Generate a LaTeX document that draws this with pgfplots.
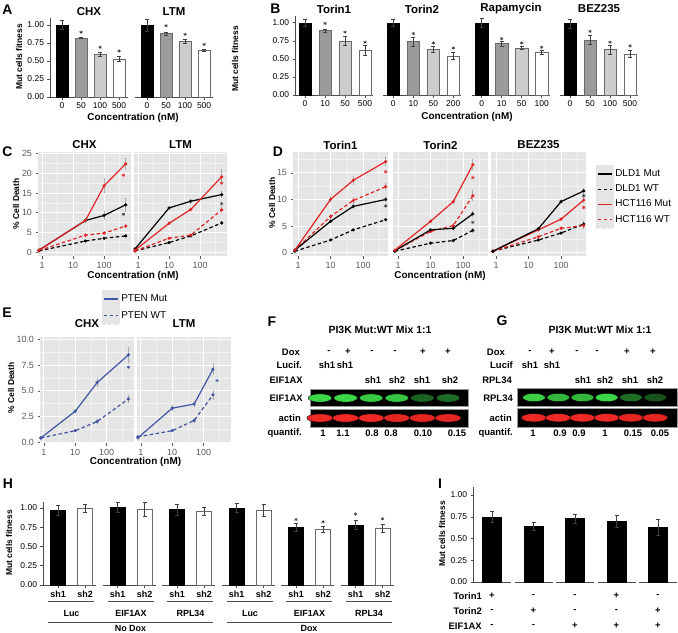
\documentclass[border=0pt]{standalone}
\usepackage{fontspec}
\setmainfont{Liberation Sans}
\usepackage{pgfplots}
\pgfplotsset{compat=1.18}
\newcommand\fsz[1]{\fontsize{#1}{#1}\selectfont}
\definecolor{ggbg}{RGB}{229,229,229}
\definecolor{ggminor}{RGB}{242,242,242}
\definecolor{ggred}{RGB}{226,36,36}
\definecolor{ptblue}{RGB}{64,84,165}
\definecolor{tickgray}{RGB}{90,90,90}
\definecolor{bargray}{RGB}{155,155,155}
\definecolor{barlight}{RGB}{205,205,205}
\definecolor{barline}{RGB}{105,105,105}
\pgfplotsset{colormap={rblot}{rgb255=(0,0,0) rgb255=(238,40,36)}}
\pgfplotsset{colormap={gblot}{rgb255=(0,0,0) rgb255=(60,215,70)}}
\pgfplotsset{
 barax/.style={scale only axis, enlargelimits=false, clip=false,
   axis x line=bottom, axis y line=left,
   axis line style={-, line width=0.55pt, black!70},
   ymin=0, ytick={0,0.25,0.5,0.75,1}, yticklabels={0.00,0.25,0.50,0.75,1.00},
   xtick={1,2,3,4},
   every tick/.append style={black!70, line width=0.5pt},
   major tick length=2.5bp, tick align=outside,
   tick label style={font=\fsz{8.5}}},
 noy/.style={axis y line=none},
 errb/.style={/pgfplots/error bars/y dir=both, /pgfplots/error bars/y explicit,
   /pgfplots/error bars/error bar style={black!75, line width=0.5pt},
   /pgfplots/error bars/error mark options={rotate=90, mark size=2bp, black!75, line width=0.5pt}},
 b1/.style={ybar, bar shift=0pt, fill=black, draw=black, errb},
 b2/.style={ybar, bar shift=0pt, fill=bargray, draw=barline, errb},
 b3/.style={ybar, bar shift=0pt, fill=barlight, draw=barline, errb},
 b4/.style={ybar, bar shift=0pt, fill=white, draw=barline, errb},
 sig/.style={only marks, mark=asterisk, mark size=1.7bp, color=black!80, mark options={line width=0.5pt, solid}},
 gg/.style={scale only axis, clip=true,
   axis background/.style={fill=ggbg},
   axis line style={draw=none},
   xmajorgrids, ymajorgrids, xminorgrids, yminorgrids,
   major grid style={white, line width=0.9pt},
   minor grid style={ggminor, line width=0.45pt},
   tick align=outside, tick pos=left,
   major tick length=2.5bp, minor tick length=0bp,
   every tick/.append style={tickgray, line width=0.5pt},
   tick label style={font=\fsz{9}, text=tickgray},
   xtick={1,10,100}, xticklabels={1,10,100},
   minor xtick={3.1623,31.623,316.23}},
 gny/.style={yticklabels={}, every y tick/.append style={draw=none}},
 ggerr/.style={/pgfplots/error bars/y dir=both, /pgfplots/error bars/y explicit,
   /pgfplots/error bars/error mark=none,
   /pgfplots/error bars/error bar style={gray, line width=0.8pt, opacity=0.6, solid}},
 mut/.style={line width=1.2pt, mark=*, mark size=0.9bp, mark options={solid}, ggerr},
 wt/.style={line width=1.2pt, dash pattern=on 3.5bp off 2.5bp, mark=*, mark size=0.9bp, mark options={solid}, ggerr},
 gsig/.style={only marks, mark=asterisk, mark size=1.7bp, mark options={line width=0.55pt, solid}},
 blot/.style={scale only axis, enlargelimits=false, clip=true,
   axis background/.style={fill=black}, xtick=\empty, ytick=\empty,
   axis line style={white!60!black, line width=0.4pt},
   ymin=0, ymax=1, point meta min=0, point meta max=1},
 band/.style={scatter, only marks, mark=*, point meta=explicit,
   scatter/use mapped color={draw=none, fill=mapped color}},
 ggleg/.style={legend cell align=left,
   legend image code/.code={\fill[ggbg] (0bp,-8.6bp) rectangle (17.2bp,8.6bp); \draw[##1, line width=1.2pt] (1.5bp,0bp) -- (15.7bp,0bp);}},
}
\begin{document}
\begin{tikzpicture}[
  plet/.style={font=\fsz{14}\bfseries, inner sep=0pt},
  ttl/.style={font=\fsz{11.5}\bfseries, inner sep=0pt},
  xlab/.style={font=\fsz{10}\bfseries, inner sep=0pt},
  ylab/.style={font=\fsz{8.5}\bfseries, inner sep=0pt, rotate=90},
  rowl/.style={font=\fsz{9.5}\bfseries, inner sep=0pt},
]
\path[use as bounding box] (0,0) rectangle (678bp,-633bp);

% ---------------- Panel A ----------------
\node[plet] at (7.5bp,-10bp) {A};
\node[ttl] at (89bp,-12bp) {CHX};
\node[ttl] at (174bp,-12bp) {LTM};
\node[ylab] at (19bp,-57bp) {Mut cells fitness};
\node[xlab] at (133bp,-118bp) {Concentration (nM)};
\begin{axis}[barax, at={(50bp,-97bp)}, anchor=south west, width=78bp, height=79.2bp,
  ymax=1.1, xmin=0.368, xmax=4.47, bar width=12bp, xticklabels={0,50,100,500}]
\addplot[b1] coordinates {(1,1.00) +- (0,0.06)};
\addplot[b2] coordinates {(2,0.82) +- (0,0.01)};
\addplot[b3] coordinates {(3,0.59) +- (0,0.03)};
\addplot[b4] coordinates {(4,0.53) +- (0,0.04)};
\addplot[sig] coordinates {(2,0.90) (3,0.69) (4,0.64)};
\end{axis}
\begin{axis}[barax, noy, at={(135bp,-97bp)}, anchor=south west, width=78bp, height=79.2bp,
  ymax=1.1, xmin=0.368, xmax=4.47, bar width=12bp, xticklabels={0,50,100,500}]
\addplot[b1] coordinates {(1,1.00) +- (0,0.08)};
\addplot[b2] coordinates {(2,0.88) +- (0,0.02)};
\addplot[b3] coordinates {(3,0.77) +- (0,0.03)};
\addplot[b4] coordinates {(4,0.65) +- (0,0.02)};
\addplot[sig] coordinates {(2,0.99) (3,0.87) (4,0.73)};
\end{axis}

% ---------------- Panel B ----------------
\node[plet] at (275.5bp,-8.5bp) {B};
\node[ttl] at (334bp,-9bp) {Torin1};
\node[ttl] at (422bp,-9bp) {Torin2};
\node[ttl] at (511bp,-9bp) {Rapamycin};
\node[ttl] at (599bp,-9bp) {BEZ235};
\node[ylab] at (235bp,-59bp) {Mut cells fitness};
\node[xlab] at (467bp,-117bp) {Concentration (nM)};
\begin{axis}[barax, at={(295bp,-95bp)}, anchor=south west, width=78bp, height=79.5bp,
  ymax=1.1, xmin=0.5, xmax=4.4, bar width=12.5bp, xticklabels={0,10,50,500}]
\addplot[b1] coordinates {(1,1.00) +- (0,0.05)};
\addplot[b2] coordinates {(2,0.89) +- (0,0.02)};
\addplot[b3] coordinates {(3,0.75) +- (0,0.06)};
\addplot[b4] coordinates {(4,0.62) +- (0,0.07)};
\addplot[sig] coordinates {(2,0.99) (3,0.87) (4,0.73)};
\end{axis}
\begin{axis}[barax, noy, at={(383.3bp,-95bp)}, anchor=south west, width=78bp, height=79.5bp,
  ymax=1.1, xmin=0.5, xmax=4.4, bar width=12.5bp, xticklabels={0,10,50,200}]
\addplot[b1] coordinates {(1,1.00) +- (0,0.05)};
\addplot[b2] coordinates {(2,0.74) +- (0,0.06)};
\addplot[b3] coordinates {(3,0.63) +- (0,0.04)};
\addplot[b4] coordinates {(4,0.54) +- (0,0.05)};
\addplot[sig] coordinates {(2,0.85) (3,0.72) (4,0.65)};
\end{axis}
\begin{axis}[barax, noy, at={(471.7bp,-95bp)}, anchor=south west, width=78bp, height=79.5bp,
  ymax=1.1, xmin=0.5, xmax=4.4, bar width=12.5bp, xticklabels={0,10,50,100}]
\addplot[b1] coordinates {(1,1.00) +- (0,0.06)};
\addplot[b2] coordinates {(2,0.71) +- (0,0.03)};
\addplot[b3] coordinates {(3,0.65) +- (0,0.02)};
\addplot[b4] coordinates {(4,0.59) +- (0,0.03)};
\addplot[sig] coordinates {(2,0.78) (3,0.72) (4,0.66)};
\end{axis}
\begin{axis}[barax, noy, at={(560bp,-95bp)}, anchor=south west, width=78bp, height=79.5bp,
  ymax=1.1, xmin=0.5, xmax=4.4, bar width=12.5bp, xticklabels={0,50,100,500}]
\addplot[b1] coordinates {(1,0.99) +- (0,0.06)};
\addplot[b2] coordinates {(2,0.76) +- (0,0.06)};
\addplot[b3] coordinates {(3,0.63) +- (0,0.06)};
\addplot[b4] coordinates {(4,0.57) +- (0,0.05)};
\addplot[sig] coordinates {(2,0.88) (3,0.73) (4,0.68)};
\end{axis}

% ---------------- Panel C ----------------
\node[plet] at (7.5bp,-152bp) {C};
\node[ttl] at (84.5bp,-145bp) {CHX};
\node[ttl] at (180.5bp,-145bp) {LTM};
\node[ylab] at (16bp,-204bp) {\% Cell Death};
\node[xlab] at (133bp,-276bp) {Concentration (nM)};
\begin{axis}[gg, xmode=log, at={(38bp,-256bp)}, anchor=south west, width=93bp, height=104bp,
  xmin=0.74, xmax=740, ymin=-1, ymax=25.4, ytick={0,5,10,15,20,25}, yticklabels={0,5,10,15,20,25},
  minor ytick={2.5,7.5,12.5,17.5,22.5}]
\addplot[wt, black] coordinates {(0.8,0.3) +- (0,0.1) (25,2.8) +- (0,0.3) (100,3.5) +- (0,0.4) (500,4.1) +- (0,0.4)};
\addplot[wt, ggred] coordinates {(0.8,0.4) +- (0,0.1) (25,4.3) +- (0,0.4) (100,4.8) +- (0,0.5) (500,6.6) +- (0,0.5)};
\addplot[mut, black] coordinates {(0.8,0.5) +- (0,0.1) (25,8.0) +- (0,0.5) (100,9.3) +- (0,1.2) (500,12.0) +- (0,1.8)};
\addplot[mut, ggred] coordinates {(0.8,0.5) +- (0,0.1) (25,8.0) +- (0,0.6) (100,16.8) +- (0,1.9) (500,22.4) +- (0,1.6)};
\addplot[gsig, ggred] coordinates {(420,19.5)};
\addplot[gsig, black!75] coordinates {(420,9.6)};
\end{axis}
\begin{axis}[gg, gny, xmode=log, at={(134bp,-256bp)}, anchor=south west, width=93bp, height=104bp,
  xmin=0.74, xmax=740, ymin=-1, ymax=25.4, ytick={0,5,10,15,20,25}, minor ytick={2.5,7.5,12.5,17.5,22.5}]
\addplot[wt, black] coordinates {(0.8,0.3) +- (0,0.1) (10,2.4) +- (0,0.3) (50,4.1) +- (0,0.4) (500,7.4) +- (0,0.5)};
\addplot[wt, ggred] coordinates {(0.8,0.3) +- (0,0.1) (10,3.5) +- (0,0.3) (50,4.3) +- (0,0.4) (500,10.7) +- (0,0.9)};
\addplot[mut, black] coordinates {(0.8,0.8) +- (0,0.1) (10,11.2) +- (0,0.5) (50,12.9) +- (0,0.6) (500,14.6) +- (0,1.0)};
\addplot[mut, ggred] coordinates {(0.8,0.5) +- (0,0.1) (10,7.3) +- (0,0.5) (50,10.8) +- (0,0.5) (500,19.1) +- (0,1.9)};
\addplot[gsig, ggred] coordinates {(500,17.5)};
\addplot[gsig, black!75] coordinates {(500,12.3)};
\end{axis}

% ---------------- Panel D ----------------
\node[plet] at (278bp,-152bp) {D};
\node[ttl] at (340.5bp,-145bp) {Torin1};
\node[ttl] at (440.5bp,-145bp) {Torin2};
\node[ttl] at (538.5bp,-145bp) {BEZ235};
\node[ylab] at (272bp,-203bp) {\% Cell Death};
\node[xlab] at (440bp,-276bp) {Concentration (nM)};
\begin{axis}[gg, xmode=log, at={(293bp,-256bp)}, anchor=south west, width=95bp, height=104bp,
  xmin=0.7, xmax=587, ymin=-0.6, ymax=18.9, ytick={0,5,10,15}, yticklabels={0,5,10,15}, minor ytick={2.5,7.5,12.5,17.5}]
\addplot[wt, black] coordinates {(0.8,0.3) +- (0,0.1) (10,2.4) +- (0,0.2) (50,4.3) +- (0,0.2) (500,6.2) +- (0,0.3)};
\addplot[wt, ggred] coordinates {(0.8,0.5) +- (0,0.1) (10,6.8) +- (0,0.5) (50,9.8) +- (0,0.6) (500,12.4) +- (0,0.6)};
\addplot[mut, black] coordinates {(0.8,0.5) +- (0,0.1) (10,5.9) +- (0,0.4) (50,8.7) +- (0,0.5) (500,10.0) +- (0,0.5)};
\addplot[mut, ggred] coordinates {(0.8,0.5) +- (0,0.2) (10,10.0) +- (0,0.7) (50,13.6) +- (0,0.8) (500,17.1) +- (0,0.8)};
\addplot[gsig, ggred] coordinates {(500,15.2)};
\addplot[gsig, black!75] coordinates {(500,8.8)};
\end{axis}
\begin{axis}[gg, gny, xmode=log, at={(393bp,-256bp)}, anchor=south west, width=95bp, height=104bp,
  xmin=0.7, xmax=587, ymin=-0.6, ymax=18.9, ytick={0,5,10,15}, minor ytick={2.5,7.5,12.5,17.5}]
\addplot[wt, black] coordinates {(0.8,0.3) +- (0,0.1) (10,1.8) +- (0,0.2) (50,2.3) +- (0,0.2) (200,4.2) +- (0,0.4)};
\addplot[wt, ggred] coordinates {(0.8,0.4) +- (0,0.1) (10,4.0) +- (0,0.3) (50,5.1) +- (0,0.4) (200,10.7) +- (0,1.0)};
\addplot[mut, black] coordinates {(0.8,0.4) +- (0,0.1) (10,4.3) +- (0,0.3) (50,4.6) +- (0,0.3) (200,7.3) +- (0,0.6)};
\addplot[mut, ggred] coordinates {(0.8,0.5) +- (0,0.2) (10,5.9) +- (0,0.4) (50,9.6) +- (0,0.4) (200,16.5) +- (0,1.0)};
\addplot[gsig, ggred] coordinates {(200,14.1)};
\addplot[gsig, black!75] coordinates {(200,5.7)};
\end{axis}
\begin{axis}[gg, gny, xmode=log, at={(491bp,-256bp)}, anchor=south west, width=95bp, height=104bp,
  xmin=0.7, xmax=587, ymin=-0.6, ymax=18.9, ytick={0,5,10,15}, minor ytick={2.5,7.5,12.5,17.5}]
\addplot[wt, black] coordinates {(0.8,0.3) +- (0,0.1) (20,2.4) +- (0,0.2) (100,3.7) +- (0,0.2) (500,5.4) +- (0,0.6)};
\addplot[wt, ggred] coordinates {(0.8,0.3) +- (0,0.1) (20,3.0) +- (0,0.2) (100,4.6) +- (0,0.4) (500,5.1) +- (0,0.6)};
\addplot[mut, ggred] coordinates {(0.8,0.3) +- (0,0.1) (20,4.3) +- (0,0.3) (100,6.3) +- (0,0.4) (500,9.9) +- (0,0.5)};
\addplot[mut, black] coordinates {(0.8,0.3) +- (0,0.1) (20,4.5) +- (0,0.3) (100,9.6) +- (0,0.5) (500,11.6) +- (0,0.6)};
\addplot[gsig, ggred] coordinates {(500,8.5)};
\addplot[gsig, black!75] coordinates {(500,10.7)};
\end{axis}
\begin{axis}[ggleg, at={(596bp,-165bp)}, anchor=north west, hide axis, scale only axis, width=5bp, height=5bp,
  xmin=0, xmax=1, ymin=0, ymax=1,
  legend style={at={(0,1)}, anchor=north west, draw=none, fill=none, font=\fsz{10},
    inner sep=0pt, row sep=-2.5bp, nodes={inner sep=1.5bp}}]
\addlegendimage{black}
\addlegendentry{DLD1 Mut}
\addlegendimage{black, dash pattern=on 3.5bp off 2.5bp}
\addlegendentry{DLD1 WT}
\addlegendimage{ggred}
\addlegendentry{HCT116 Mut}
\addlegendimage{ggred, dash pattern=on 3.5bp off 2.5bp}
\addlegendentry{HCT116 WT}
\end{axis}

% ---------------- Panel E ----------------
\node[plet] at (7bp,-313bp) {E};
\node[ttl] at (87bp,-324bp) {CHX};
\node[ttl] at (184bp,-324bp) {LTM};
\node[ylab] at (11bp,-388bp) {\% Cell Death};
\node[xlab] at (135.5bp,-462bp) {Concentration (nM)};
\begin{axis}[ggleg, at={(102bp,-290bp)}, anchor=north west, hide axis, scale only axis, width=5bp, height=5bp,
  xmin=0, xmax=1, ymin=0, ymax=1,
  legend style={at={(0,1)}, anchor=north west, draw=none, fill=none, font=\fsz{10},
    inner sep=0pt, row sep=-1.2bp, nodes={inner sep=1.5bp}}]
\addlegendimage{ptblue}
\addlegendentry{PTEN Mut}
\addlegendimage{ptblue, dash pattern=on 3.5bp off 2.5bp}
\addlegendentry{PTEN WT}
\end{axis}
\begin{axis}[gg, xmode=log, at={(40bp,-443bp)}, anchor=south west, width=94bp, height=106bp,
  xmin=0.75, xmax=753, ymin=-0.1, ymax=10.25, ytick={0,2.5,5,7.5,10}, yticklabels={0.0,2.5,5.0,7.5,10.0},
  minor ytick={1.25,3.75,6.25,8.75}]
\addplot[wt, ptblue] coordinates {(0.8,0.4) +- (0,0.05) (10,1.1) +- (0,0.1) (50,2.0) +- (0,0.2) (500,4.2) +- (0,0.4)};
\addplot[mut, ptblue] coordinates {(0.8,0.4) +- (0,0.05) (10,3.0) +- (0,0.2) (50,5.8) +- (0,0.4) (500,8.5) +- (0,0.8)};
\addplot[gsig, ptblue] coordinates {(500,7.3)};
\end{axis}
\begin{axis}[gg, gny, xmode=log, at={(137bp,-443bp)}, anchor=south west, width=94bp, height=106bp,
  xmin=0.75, xmax=753, ymin=-0.1, ymax=10.25, ytick={0,2.5,5,7.5,10},
  minor ytick={1.25,3.75,6.25,8.75}]
\addplot[wt, ptblue] coordinates {(0.8,0.5) +- (0,0.05) (10,1.1) +- (0,0.1) (50,2.1) +- (0,0.2) (200,4.6) +- (0,0.5)};
\addplot[mut, ptblue] coordinates {(0.8,0.4) +- (0,0.05) (10,3.3) +- (0,0.3) (50,3.7) +- (0,0.3) (200,7.1) +- (0,0.6)};
\addplot[gsig, ptblue] coordinates {(270,6.0)};
\end{axis}

% ---------------- Panel F ----------------
\node[plet] at (272bp,-322bp) {F};
\node[font=\fsz{10.5}\bfseries, inner sep=0pt] at (380bp,-330bp) {PI3K Mut:WT Mix 1:1};
\node[rowl, anchor=east] at (300bp,-352bp) {Dox};
\foreach \x/\t in {329/-,348/+,372/-,395/-,423/+,448/+} \node[rowl] at (\x bp,-352bp) {\t};
\node[rowl, anchor=east] at (302bp,-365bp) {Lucif.};
\foreach \x in {327,345} \node[rowl] at (\x bp,-365bp) {sh1};
\node[rowl, anchor=east] at (303bp,-380bp) {EIF1AX};
\foreach \x/\t in {373/sh1,397/sh2,422/sh1,450/sh2} \node[rowl] at (\x bp,-380bp) {\t};
\node[rowl, anchor=east] at (303bp,-398bp) {EIF1AX};
\node[rowl, anchor=east] at (301bp,-418bp) {actin};
\node[rowl, anchor=east] at (302bp,-433bp) {quantif.};
\foreach \x/\t in {323/1,343/1.1,372/0.8,391/0.8,423/0.10,457/0.15} \node[rowl] at (\x bp,-433bp) {\t};
\begin{axis}[blot, colormap name=gblot, at={(310bp,-389.5bp)}, anchor=north west, width=158bp, height=17bp,
  xmin=0.61, xmax=6.78]
\addplot[band, mark size=4.4bp, mark options={xscale=2.7, yscale=0.95}] coordinates {(1,0.5) [1.0] (2,0.5) [1.0] (3,0.5) [0.92] (4,0.5) [0.9] (5,0.5) [0.45] (6,0.5) [0.5]};
\end{axis}
\begin{axis}[blot, colormap name=rblot, at={(310bp,-409bp)}, anchor=north west, width=158bp, height=18bp,
  xmin=0.61, xmax=6.78]
\addplot[band, mark size=4.4bp, mark options={xscale=3.0, yscale=0.95}] coordinates {(1,0.5) [1.0] (2,0.5) [1.0] (3,0.5) [1.0] (4,0.5) [0.95] (5,0.5) [0.95] (6,0.5) [0.95]};
\end{axis}

% ---------------- Panel G ----------------
\node[plet] at (502bp,-321bp) {G};
\node[font=\fsz{10.5}\bfseries, inner sep=0pt] at (600bp,-330bp) {PI3K Mut:WT Mix 1:1};
\node[rowl, anchor=east] at (505bp,-352bp) {Dox};
\foreach \x/\t in {530/-,552/+,577/-,597/-,627/+,653/+} \node[rowl] at (\x bp,-352bp) {\t};
\node[rowl, anchor=east] at (513bp,-365bp) {Lucif};
\foreach \x in {530,552} \node[rowl] at (\x bp,-365bp) {sh1};
\node[rowl, anchor=east] at (512bp,-380bp) {RPL34};
\foreach \x/\t in {583/sh1,605/sh2,630/sh1,655/sh2} \node[rowl] at (\x bp,-380bp) {\t};
\node[rowl, anchor=east] at (513bp,-398bp) {RPL34};
\node[rowl, anchor=east] at (512bp,-418bp) {actin};
\node[rowl, anchor=east] at (513bp,-433bp) {quantif.};
\foreach \x/\t in {533/1,560/0.9,579/0.9,605/1,633/0.15,660/0.05} \node[rowl] at (\x bp,-433bp) {\t};
\begin{axis}[blot, colormap name=gblot, at={(517bp,-388.5bp)}, anchor=north west, width=160bp, height=18bp,
  xmin=0.3, xmax=6.9]
\addplot[band, mark size=4.4bp, mark options={xscale=2.6, yscale=0.95}] coordinates {(1,0.5) [0.95] (2,0.5) [0.85] (3,0.5) [0.85] (4,0.5) [1.0] (5,0.5) [0.5] (6,0.5) [0.38]};
\end{axis}
\begin{axis}[blot, colormap name=rblot, at={(517bp,-408.5bp)}, anchor=north west, width=160bp, height=18.5bp,
  xmin=0.3, xmax=6.9]
\addplot[band, mark size=4.4bp, mark options={xscale=2.9, yscale=0.95}] coordinates {(1,0.5) [1.0] (2,0.5) [1.0] (3,0.5) [1.0] (4,0.5) [1.0] (5,0.5) [0.95] (6,0.5) [0.95]};
\end{axis}

% ---------------- Panel H ----------------
\node[plet] at (8bp,-484bp) {H};
\node[ylab] at (9bp,-543bp) {Mut cells fitness};
\begin{axis}[barax, at={(43bp,-585bp)}, anchor=south west, width=53bp, height=83.2bp,
  ymax=1.08, xmin=0.444, xmax=2.407, bar width=15bp, xtick={1,2}, xticklabels={sh1,sh2},
  xticklabel style={font=\fsz{9}\bfseries}]
\addplot[b1] coordinates {(1,0.97) +- (0,0.06)};
\addplot[b4] coordinates {(2,1.00) +- (0,0.05)};
\end{axis}
\begin{axis}[barax, noy, at={(102.5bp,-585bp)}, anchor=south west, width=53bp, height=83.2bp,
  ymax=1.08, xmin=0.444, xmax=2.407, bar width=15bp, xtick={1,2}, xticklabels={sh1,sh2},
  xticklabel style={font=\fsz{9}\bfseries}]
\addplot[b1] coordinates {(1,1.01) +- (0,0.06)};
\addplot[b4] coordinates {(2,0.98) +- (0,0.09)};
\end{axis}
\begin{axis}[barax, noy, at={(162bp,-585bp)}, anchor=south west, width=53bp, height=83.2bp,
  ymax=1.08, xmin=0.444, xmax=2.407, bar width=15bp, xtick={1,2}, xticklabels={sh1,sh2},
  xticklabel style={font=\fsz{9}\bfseries}]
\addplot[b1] coordinates {(1,0.98) +- (0,0.07)};
\addplot[b4] coordinates {(2,0.96) +- (0,0.05)};
\end{axis}
\begin{axis}[barax, noy, at={(221.5bp,-585bp)}, anchor=south west, width=53bp, height=83.2bp,
  ymax=1.08, xmin=0.444, xmax=2.407, bar width=15bp, xtick={1,2}, xticklabels={sh1,sh2},
  xticklabel style={font=\fsz{9}\bfseries}]
\addplot[b1] coordinates {(1,1.00) +- (0,0.06)};
\addplot[b4] coordinates {(2,0.97) +- (0,0.08)};
\end{axis}
\begin{axis}[barax, noy, at={(281bp,-585bp)}, anchor=south west, width=53bp, height=83.2bp,
  ymax=1.08, xmin=0.444, xmax=2.407, bar width=15bp, xtick={1,2}, xticklabels={sh1,sh2},
  xticklabel style={font=\fsz{9}\bfseries}]
\addplot[b1] coordinates {(1,0.75) +- (0,0.05)};
\addplot[b4] coordinates {(2,0.72) +- (0,0.04)};
\addplot[sig] coordinates {(1,0.85) (2,0.82)};
\end{axis}
\begin{axis}[barax, noy, at={(340.5bp,-585bp)}, anchor=south west, width=53bp, height=83.2bp,
  ymax=1.08, xmin=0.444, xmax=2.407, bar width=15bp, xtick={1,2}, xticklabels={sh1,sh2},
  xticklabel style={font=\fsz{9}\bfseries}]
\addplot[b1] coordinates {(1,0.78) +- (0,0.06)};
\addplot[b4] coordinates {(2,0.74) +- (0,0.05)};
\addplot[sig] coordinates {(1,0.92) (2,0.86)};
\end{axis}
\begin{scope}[black!70, line width=0.5pt]
\draw (48bp,-601bp) -- (94bp,-601bp);
\draw (107.5bp,-601bp) -- (153.5bp,-601bp);
\draw (167bp,-601bp) -- (213bp,-601bp);
\draw (226.5bp,-601bp) -- (272.5bp,-601bp);
\draw (286bp,-601bp) -- (332bp,-601bp);
\draw (345.5bp,-601bp) -- (391.5bp,-601bp);
\draw (48bp,-622bp) -- (213bp,-622bp);
\draw (226.5bp,-622bp) -- (391.5bp,-622bp);
\end{scope}
\foreach \x/\t in {71.5/Luc,131/EIF1AX,190.5/RPL34,250/Luc,309.5/EIF1AX,369/RPL34} \node[font=\fsz{9}\bfseries, inner sep=0pt] at (\x bp,-613bp) {\t};
\node[font=\fsz{9}\bfseries, inner sep=0pt] at (130.5bp,-628.5bp) {No Dox};
\node[font=\fsz{9}\bfseries, inner sep=0pt] at (309bp,-628.5bp) {Dox};

% ---------------- Panel I ----------------
\node[plet] at (440bp,-484bp) {I};
\node[ylab] at (442bp,-534bp) {Mut cells fitness};
\begin{axis}[barax, at={(473bp,-582bp)}, anchor=south west, width=38bp, height=94.8bp,
  ymax=1.09, xmin=0, xmax=2, bar width=19bp, xtick=\empty]
\addplot[b1] coordinates {(1,0.75) +- (0,0.065)};
\end{axis}
\begin{axis}[barax, noy, at={(514.5bp,-582bp)}, anchor=south west, width=38bp, height=94.8bp,
  ymax=1.09, xmin=0, xmax=2, bar width=19bp, xtick=\empty]
\addplot[b1] coordinates {(1,0.64) +- (0,0.045)};
\end{axis}
\begin{axis}[barax, noy, at={(556bp,-582bp)}, anchor=south west, width=38bp, height=94.8bp,
  ymax=1.09, xmin=0, xmax=2, bar width=19bp, xtick=\empty]
\addplot[b1] coordinates {(1,0.73) +- (0,0.05)};
\end{axis}
\begin{axis}[barax, noy, at={(597.5bp,-582bp)}, anchor=south west, width=38bp, height=94.8bp,
  ymax=1.09, xmin=0, xmax=2, bar width=19bp, xtick=\empty]
\addplot[b1] coordinates {(1,0.70) +- (0,0.07)};
\end{axis}
\begin{axis}[barax, noy, at={(639bp,-582bp)}, anchor=south west, width=38bp, height=94.8bp,
  ymax=1.09, xmin=0, xmax=2, bar width=19bp, xtick=\empty]
\addplot[b1] coordinates {(1,0.63) +- (0,0.09)};
\end{axis}
\node[rowl, anchor=east] at (482bp,-596bp) {Torin1};
\node[rowl, anchor=east] at (482bp,-611bp) {Torin2};
\node[rowl, anchor=east] at (482bp,-626bp) {EIF1AX};
\foreach \x/\t in {492/+,533.5/-,575/-,616.5/+,658/-} \node[rowl] at (\x bp,-596bp) {\t};
\foreach \x/\t in {492/-,533.5/+,575/-,616.5/-,658/+} \node[rowl] at (\x bp,-611bp) {\t};
\foreach \x/\t in {492/-,533.5/-,575/+,616.5/+,658/+} \node[rowl] at (\x bp,-626bp) {\t};
\end{tikzpicture}
\end{document}
